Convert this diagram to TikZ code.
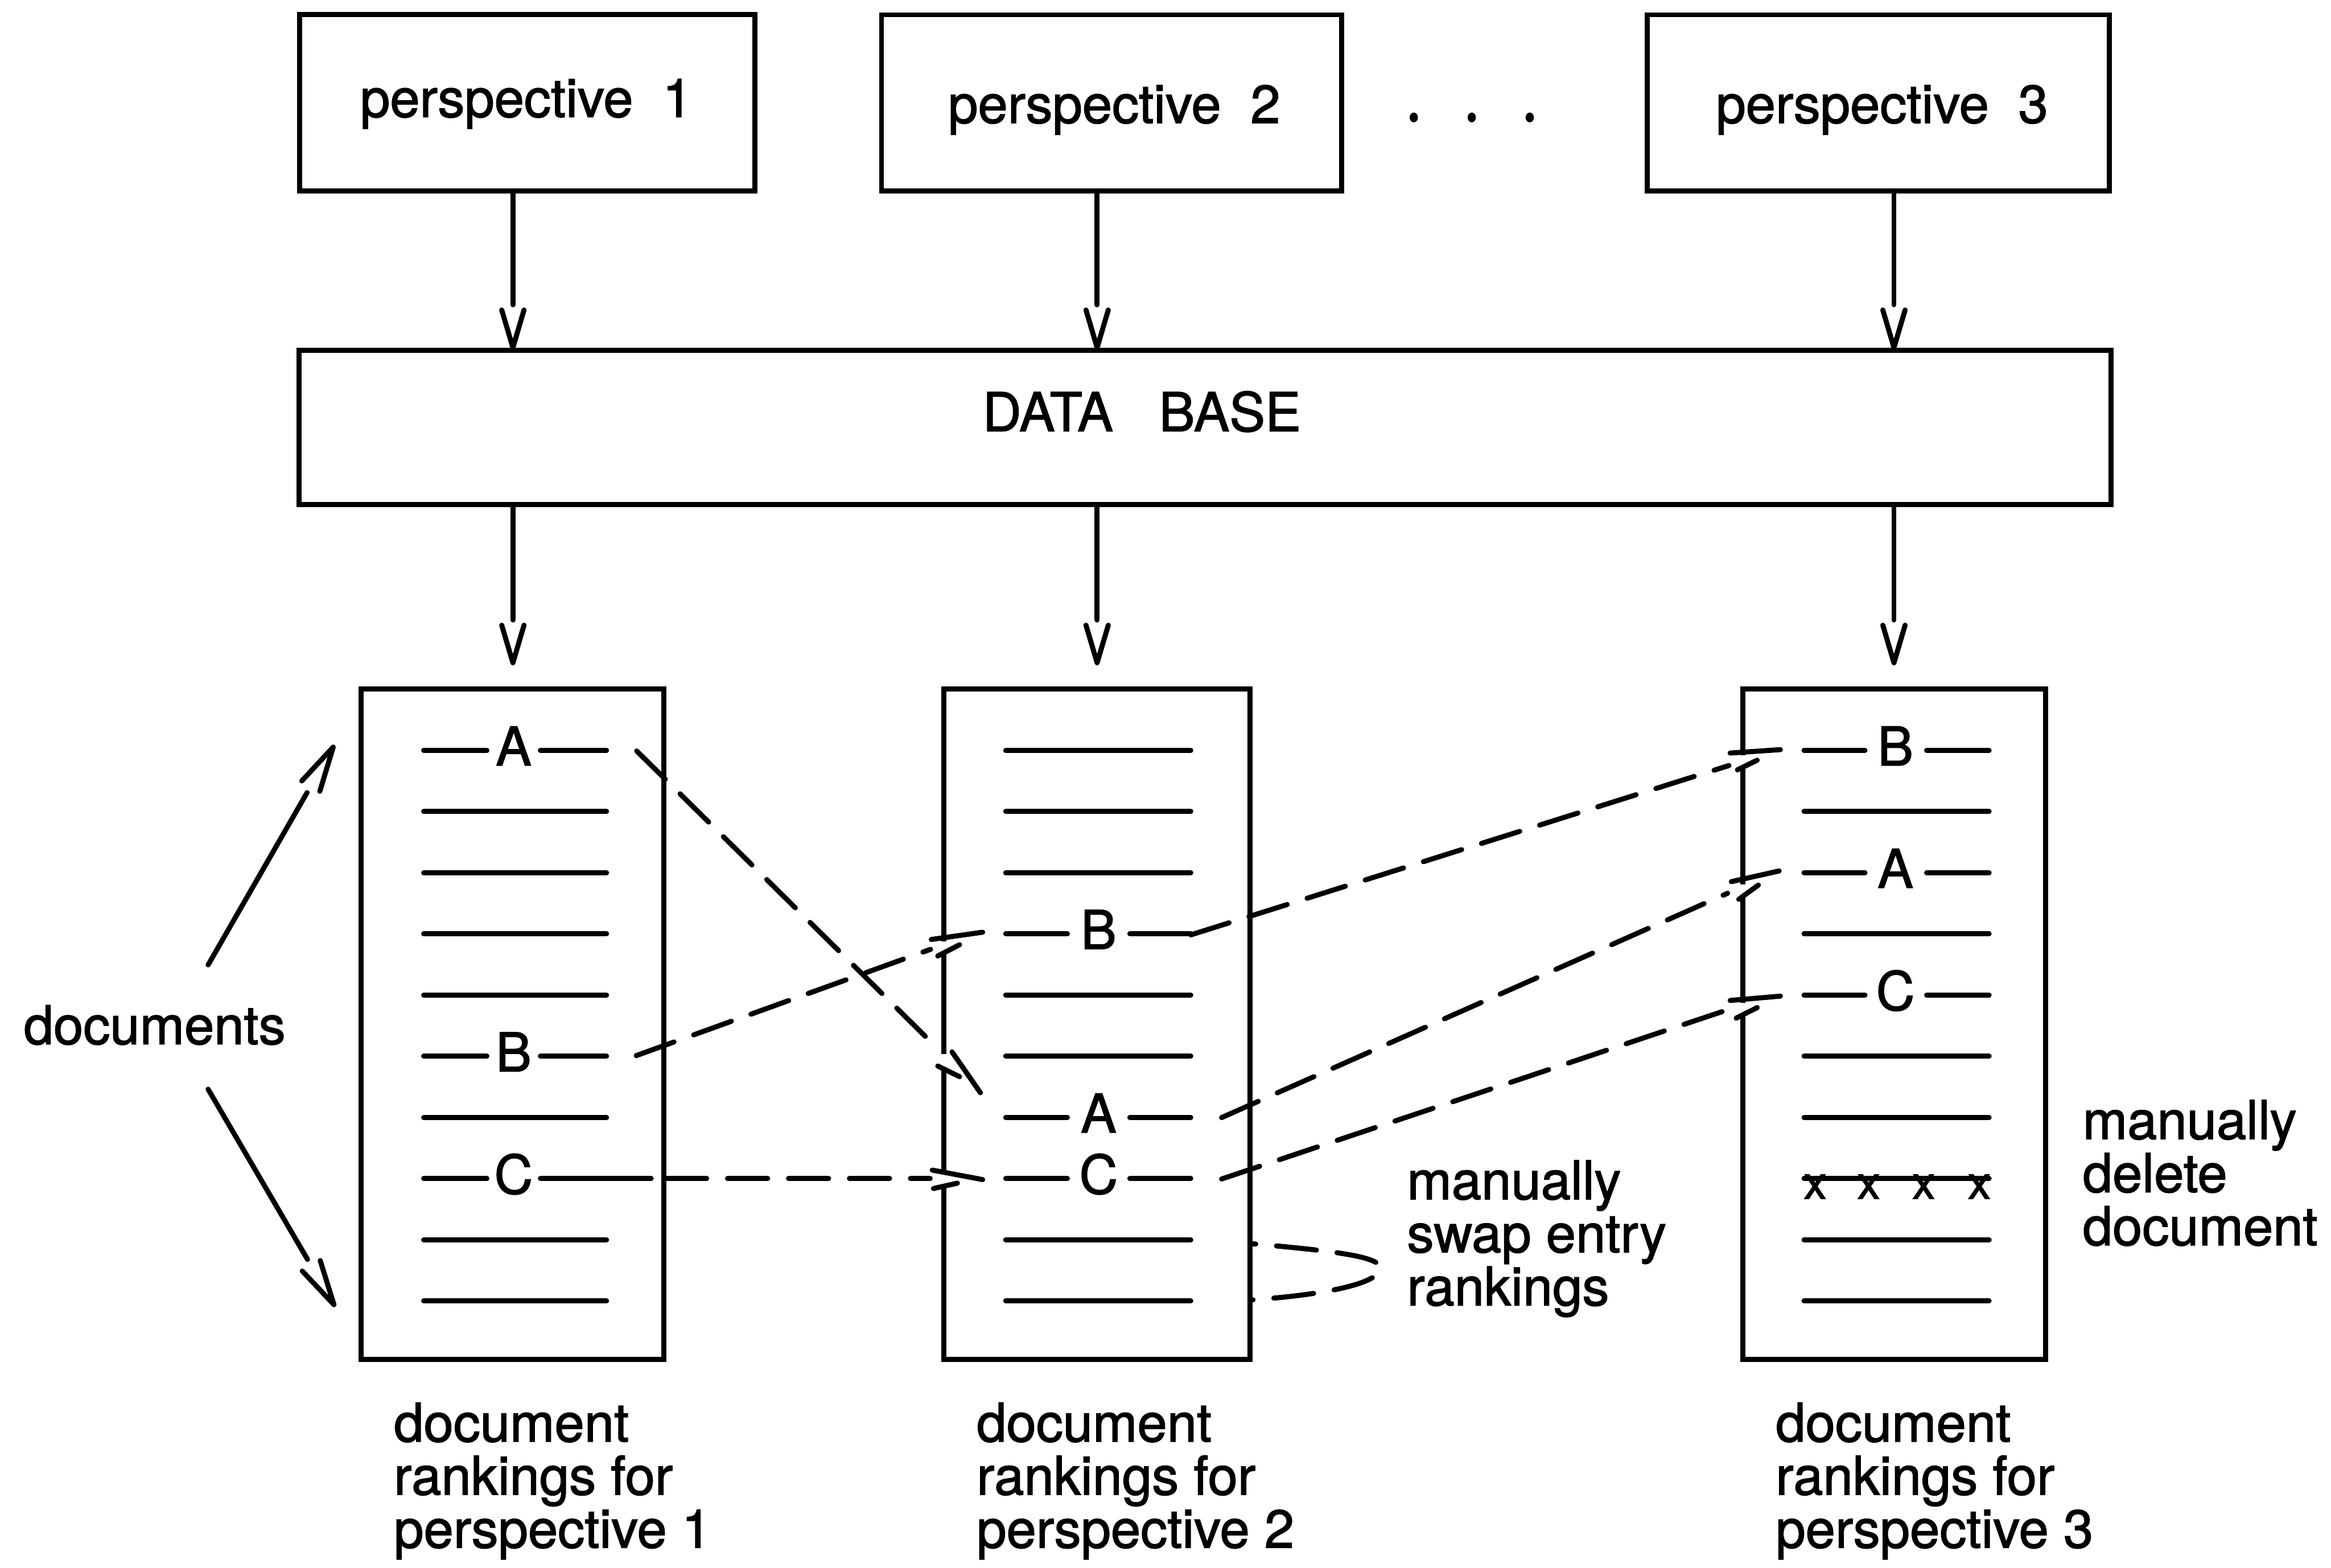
\documentclass[tikz,border=0pt]{standalone}
\usepackage{fontspec}
\setmainfont{TeX Gyre Heros}[BoldFont={TeX Gyre Heros}, BoldFeatures={FakeBold=1.6}]
\usetikzlibrary{calc,shapes.geometric}

% open "V" arrow head; the shaft stops where the two arms open
\pgfdeclarearrow{
  name = openV,
  setup code = {
    \pgfarrowssettipend{0pt}
    \pgfarrowssetlineend{-30.5pt}
    \pgfarrowssetbackend{-30.5pt}
    \pgfarrowshullpoint{0pt}{0pt}
    \pgfarrowshullpoint{-27pt}{7.5pt}
    \pgfarrowshullpoint{-27pt}{-7.5pt}
  },
  drawing code = {
    \pgfsetdash{}{0pt}
    \pgfsetroundcap
    \pgfsetroundjoin
    \pgfpathmoveto{\pgfqpoint{-27pt}{7.5pt}}
    \pgfpathlineto{\pgfqpoint{-1.7pt}{0pt}}
    \pgfpathlineto{\pgfqpoint{-27pt}{-7.5pt}}
    \pgfusepathqstroke
  }
}
\pgfdeclarearrow{
  name = openVlong,
  setup code = {
    \pgfarrowssettipend{0pt}
    \pgfarrowssetlineend{-37pt}
    \pgfarrowssetbackend{-37pt}
    \pgfarrowshullpoint{0pt}{0pt}
    \pgfarrowshullpoint{-32pt}{7pt}
    \pgfarrowshullpoint{-32pt}{-7pt}
  },
  drawing code = {
    \pgfsetdash{}{0pt}
    \pgfsetroundcap
    \pgfsetroundjoin
    \pgfpathmoveto{\pgfqpoint{-32pt}{7pt}}
    \pgfpathlineto{\pgfqpoint{-1.7pt}{0pt}}
    \pgfpathlineto{\pgfqpoint{-32pt}{-7pt}}
    \pgfusepathqstroke
  }
}

\begin{document}
\begin{tikzpicture}[x=1pt, y=-1pt, line width=3.4pt,
  every node/.style={inner sep=0pt, outer sep=0pt},
  box/.style={draw, line width=3.4pt},
  txt/.style={font=\fontsize{36}{35.7}\selectfont\bfseries},
  note/.style={txt, align=left, anchor=base west},
  flow/.style={-openV, line cap=round},
  flowlong/.style={-openVlong, line cap=round},
  conn/.style={dash pattern=on 27pt off 14pt, line cap=round},
  jump/.style={line cap=round},
  gap/.style={draw=white, line width=5.5pt, line cap=butt},
  row/.style={line cap=round},
  dot/.style={fill, ellipse, minimum width=5.6pt, minimum height=6.6pt}
]
\useasboundingbox (0,0) rectangle (1568,1054.6);

% ---- boxes ----
\node[box, minimum width=306.2pt, minimum height=119pt]   (p1) at (354.6,69.1) {};
\node[box, minimum width=309.5pt, minimum height=118.5pt] (p2) at (747.7,69.2) {};
\node[box, minimum width=311pt,   minimum height=118.5pt] (p3) at (1263.5,69.2) {};
\node[box, minimum width=1219pt,  minimum height=104pt]   (db) at (810.5,287.5) {};
\node[box, minimum width=203.7pt, minimum height=451pt]   (r1) at (344.85,689) {};
\node[box, minimum width=205.7pt, minimum height=451pt]   (r2) at (737.85,689) {};
\node[box, minimum width=203.5pt, minimum height=451pt]   (r3) at (1274.25,689) {};

% ---- box texts ----
\node[txt, anchor=base] (p1t) at (354,78.7)   {perspective\hspace{0.55em}1};
\node[txt, anchor=base] (p2t) at (749.5,82.7) {perspective\hspace{0.55em}2};
\node[txt, anchor=base] (p3t) at (1266,82.7)  {perspective\hspace{0.55em}3};
\node[txt, anchor=base] (dbt) at (768,290)    {DATA\hspace{0.86em}BASE};

\node[dot] (d1) at (951,79) {};
\node[dot] (d2) at (990,79) {};
\node[dot] (d3) at (1029,79) {};

% ---- vertical flow ----
\foreach \n/\x in {1/345, 2/738, 3/1274} {
  \draw[flow] (p\n.south -| \x,0) -- (db.north -| \x,0);
  \draw[flow] (db.south -| \x,0) -- ($(r\n.north -| \x,0)+(0,-16)$);
}

% ---- ranking rows ----
\def\rowy#1{504.7+41.15*(#1-1)}
% list 1
\foreach \k in {2,3,4,5,7,9,10}
  \draw[row] (285,{\rowy{\k}}) -- (408,{\rowy{\k}});
\foreach \k/\l/\r in {1/A/408,6/B/408,8/C/438} {
  \draw[row] (285,{\rowy{\k}}) -- (327.5,{\rowy{\k}});
  \draw[row] (363.5,{\rowy{\k}}) -- (\r,{\rowy{\k}});
  \node[txt] (r1\l) at (345.5,{\rowy{\k}-3}) {\l};
}
% list 2
\foreach \k in {1,2,3,5,6,9,10}
  \draw[row] (676.5,{\rowy{\k}}) -- (801,{\rowy{\k}});
\foreach \k/\l in {4/B,7/A,8/C} {
  \draw[row] (676.5,{\rowy{\k}}) -- (718,{\rowy{\k}});
  \draw[row] (760,{\rowy{\k}}) -- (801,{\rowy{\k}});
  \node[txt] (r2\l) at (739,{\rowy{\k}-3}) {\l};
}
% list 3
\foreach \k in {2,4,6,7,8,9,10}
  \draw[row] (1213.5,{\rowy{\k}}) -- (1338,{\rowy{\k}});
\foreach \k/\l in {1/B,3/A,5/C} {
  \draw[row] (1213.5,{\rowy{\k}}) -- (1254.5,{\rowy{\k}});
  \draw[row] (1296,{\rowy{\k}}) -- (1338,{\rowy{\k}});
  \node[txt] (r3\l) at (1275,{\rowy{\k}-3}) {\l};
}
% deleted entry
\foreach \i/\x in {1/1221,2/1257,3/1294,4/1331.4}
  \node[font=\fontsize{31}{31}\selectfont\bfseries, anchor=base] (del\i) at (\x,806.3) {x};

% ---- connector end points ----
\coordinate (o1A) at (428.3,505.1);
\coordinate (o1B) at (428,710);
\coordinate (o1C) at (448.4,792.75);
\coordinate (o2B) at (801,628.8);
\coordinate (o2A) at (821.7,751.7);
\coordinate (o2C) at (821.7,793);

% breaks on list 2
\coordinate (b2A) at (625.7,700.3); \coordinate (j2A) at (640.4,707.5); \coordinate (e2A) at (659.5,735);
\coordinate (k2A) at (630.8,717);   \coordinate (l2A) at (645.5,724.2);
\coordinate (b2B) at (626,638.5);   \coordinate (j2B) at (626.4,631.9); \coordinate (e2B) at (661,627);
\coordinate (k2B) at (630.8,643);   \coordinate (l2B) at (645.5,635.4);
\coordinate (b2C) at (625.7,792.75);\coordinate (j2C) at (627.1,787);   \coordinate (e2C) at (661,793.4);
\coordinate (k2C) at (627.9,799.4); \coordinate (l2C) at (644,795.8);
% breaks on list 3
\coordinate (b3B) at (1163,514.9);   \coordinate (j3B) at (1163.8,506.5); \coordinate (e3B) at (1197.6,504.2);
\coordinate (k3B) at (1168.7,517.8); \coordinate (l3B) at (1182,511.3);
\coordinate (b3A) at (1162.1,600.8); \coordinate (j3A) at (1164.6,593);   \coordinate (e3A) at (1196.8,585.8);
\coordinate (k3A) at (1169.6,604.9); \coordinate (l3A) at (1182.8,595.3);
\coordinate (b3C) at (1163,678.9);   \coordinate (j3C) at (1163.8,672.9); \coordinate (e3C) at (1197.6,670);
\coordinate (k3C) at (1167.9,684.8); \coordinate (l3C) at (1182,677.7);

% openings in the list borders
\draw[gap] (635,709) -- (635,718);
\draw[gap] (635,633) -- (635,640.5);
\draw[gap] (635,789) -- (635,797.5);
\draw[gap] (1172.5,508) -- (1172.5,515);
\draw[gap] (1172.5,595) -- (1172.5,602);
\draw[gap] (1172.5,674.5) -- (1172.5,682);

% ---- dashed connectors ----
\draw[conn] (o1A) -- (b2A);
\draw[conn] (o1B) -- (b2B);
\draw[conn] (o1C) -- (b2C);
\draw[conn] (o2B) -- (b3B);
\draw[conn] (o2A) -- (b3A);
\draw[conn] (o2C) -- (b3C);
\foreach \s in {2A,2B,2C,3A,3B,3C} {
  \draw[jump] (j\s) -- (e\s);
  \draw[jump] (k\s) -- (l\s);
}

% swap loop
\coordinate (sw1) at (840.7,836.4);
\coordinate (sw2) at (840.7,874.4);
\draw[conn, dash phase=23pt] (sw1) .. controls (905,842) and (933,846) .. (928,855)
  .. controls (923,864) and (890,871) .. (sw2);

% ---- documents ----
\node[txt, anchor=base west] (docs) at (16,702.3) {documents};
\coordinate (du0) at (140,649);   \coordinate (du1) at (225,501);
\coordinate (dl0) at (140,732.6); \coordinate (dl1) at (225.5,879);
\draw[flowlong] (du0) -- (du1);
\draw[flowlong] (dl0) -- (dl1);

% ---- notes and captions (anchored on the last line) ----
\node[note] (c1) at (265,1041)    {document\\rankings for\\perspective 1};
\node[note] (c2) at (657,1041)    {document\\rankings for\\perspective 2};
\node[note] (c3) at (1194.5,1041) {document\\rankings for\\perspective 3};
\node[note] (n1) at (946.5,878)   {manually\\swap entry\\rankings};
\node[note] (n2) at (1401,837.5)  {manually\\delete\\document};
\end{tikzpicture}
\end{document}
